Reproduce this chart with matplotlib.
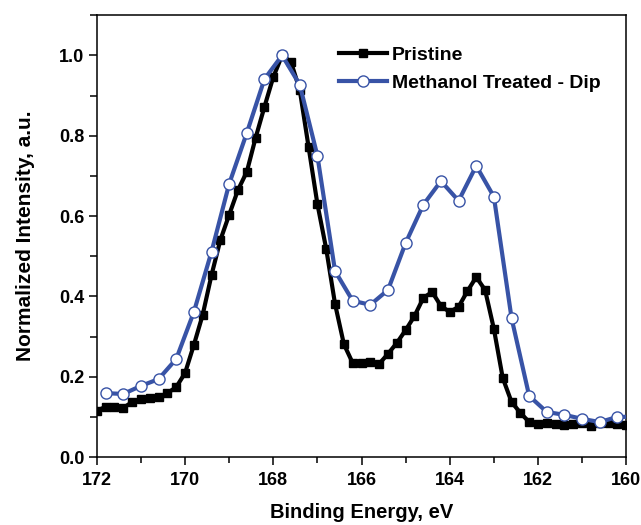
import numpy as np
import matplotlib.pyplot as plt
from matplotlib.ticker import MultipleLocator

plt.rcParams["font.family"] = ["Liberation Sans", "DejaVu Sans"]
plt.rcParams["font.weight"] = "bold"

# binding energies (eV)
be_pristine = np.round(np.arange(172.0, 159.99, -0.2), 1)
be_methanol = np.round(np.arange(171.8, 159.79, -0.4), 1)

pristine = [
    0.115, 0.125, 0.125, 0.122, 0.137, 0.144, 0.147, 0.149, 0.159, 0.174,
    0.209, 0.279, 0.354, 0.453, 0.540, 0.603, 0.665, 0.710, 0.795, 0.872,
    0.946, 1.000, 0.984, 0.914, 0.772, 0.630, 0.518, 0.381, 0.281, 0.234,
    0.234, 0.236, 0.232, 0.257, 0.284, 0.316, 0.351, 0.396, 0.411, 0.376,
    0.361, 0.374, 0.413, 0.448, 0.416, 0.319, 0.197, 0.137, 0.110, 0.087,
    0.082, 0.085, 0.082, 0.080, 0.082, 0.085, 0.077, 0.085, 0.085, 0.082,
    0.080,
]
methanol = [
    0.159, 0.157, 0.177, 0.194, 0.244, 0.361, 0.511, 0.680, 0.807, 0.941,
    1.000, 0.927, 0.750, 0.463, 0.389, 0.379, 0.416, 0.533, 0.628, 0.687,
    0.638, 0.725, 0.648, 0.346, 0.152, 0.112, 0.105, 0.095, 0.087, 0.100,
    0.100,
]

blue = "#3853a6"

fig = plt.figure(figsize=(6.41, 5.25), dpi=100)
ax = fig.add_axes([0.151, 0.1295, 0.826, 0.8415])

ax.plot(be_pristine, pristine, color="black", lw=3, marker="s", ms=6,
        label="Pristine", zorder=2)
ax.plot(be_methanol, methanol, color=blue, lw=3, marker="o", ms=8,
        mfc="white", mec=blue, mew=1, label="Methanol Treated - Dip", zorder=3)

ax.set_xlim(172, 160)
ax.set_ylim(0, 1.1)
ax.xaxis.set_major_locator(MultipleLocator(2))
ax.xaxis.set_minor_locator(MultipleLocator(1))
ax.yaxis.set_major_locator(MultipleLocator(0.2))
ax.yaxis.set_minor_locator(MultipleLocator(0.1))
ax.yaxis.set_major_formatter(plt.FormatStrFormatter("%.1f"))
ax.tick_params(which="major", direction="out", length=6, width=1.1,
               labelsize=13, pad=3)
ax.tick_params(axis="x", which="major", pad=5)
ax.tick_params(axis="x", which="minor", direction="out", length=4, width=1.1)
ax.tick_params(axis="y", which="minor", direction="out", length=5, width=1.1)
for lab in ax.get_xticklabels() + ax.get_yticklabels():
    lab.set_fontweight("bold")
for sp in ax.spines.values():
    sp.set_linewidth(1.1)

ax.set_xlabel("Binding Energy, eV", fontsize=14.5, fontweight="bold", labelpad=10)
ax.set_ylabel("Normalized Intensity, a.u.", fontsize=15, fontweight="bold", labelpad=17)

ax.legend(loc="upper left", bbox_to_anchor=(0.4575, 0.930), frameon=False,
          handlelength=2.45, handletextpad=0.25, labelspacing=0.53,
          borderpad=0, borderaxespad=0,
          prop={"weight": "bold", "size": 14})

fig.savefig("out.png", dpi=100)
